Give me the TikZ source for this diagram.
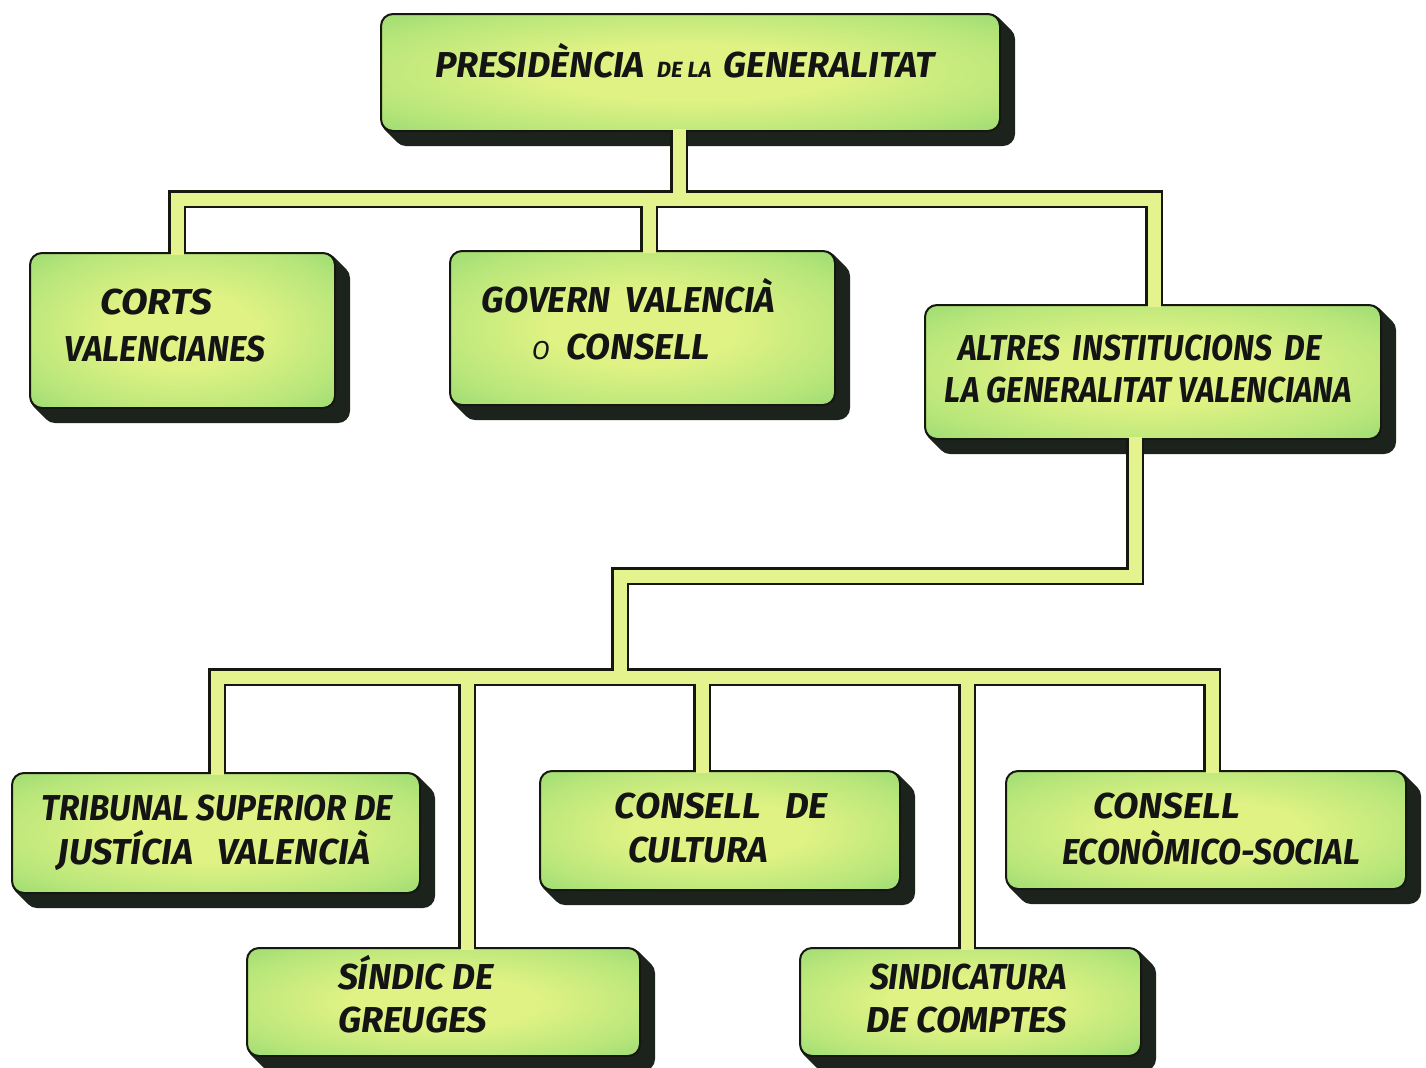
\documentclass[tikz,border=0pt]{standalone}
\usepackage{fontspec}
\setmainfont{Fira Sans}
\usepackage{graphicx}
\usetikzlibrary{backgrounds}
\definecolor{faceIn}{HTML}{E0F284}
\definecolor{faceMid}{HTML}{B8E67A}
\definecolor{faceOut}{HTML}{88D46E}
\definecolor{shadowc}{HTML}{1C221C}
\definecolor{edgec}{HTML}{16180F}
\definecolor{pipefill}{HTML}{E4F38E}
\pgfdeclareradialshading{boxshade}{\pgfpoint{0bp}{0bp}}{%
  color(0bp)=(faceIn); color(12bp)=(faceIn); color(28bp)=(faceMid);
  color(42bp)=(faceOut); color(50bp)=(faceOut)}
\tikzset{
  orgbox/.style={rounded corners=6pt, draw=edgec, line width=1pt,
    shading=boxshade, inner sep=0pt},
  pipeout/.style={draw=edgec, line width=9pt, line join=miter},
  pipein/.style={draw=pipefill, line width=6.5pt, line join=miter,
    shorten <=-1.5pt, shorten >=-1.5pt},
  lbl/.style={anchor=base, inner sep=0pt,
    font=\fontsize{18}{20}\selectfont\bfseries\itshape, text=black!92}
}
\begin{document}
\begin{tikzpicture}[x=0.5pt, y=-0.5pt]
\useasboundingbox (0,0) rectangle (1426,1067);

% boxes
\node[orgbox, minimum width=309.5pt, minimum height=58.5pt] (pres) at (690.5,72.5) {};
\node[orgbox, minimum width=152.5pt, minimum height=77.5pt] (corts) at (182.5,330.5) {};
\node[orgbox, minimum width=192.5pt, minimum height=77pt] (govern) at (642.5,328) {};
\node[orgbox, minimum width=228pt, minimum height=67pt] (altres) at (1153,372) {};
\node[orgbox, minimum width=204pt, minimum height=60pt] (trib) at (216,833) {};
\node[orgbox, minimum width=180pt, minimum height=59.5pt] (cult) at (720,830.5) {};
\node[orgbox, minimum width=200pt, minimum height=59pt] (econ) at (1206,830) {};
\node[orgbox, minimum width=196.5pt, minimum height=54pt] (sindic) at (443.5,1002) {};
\node[orgbox, minimum width=170.5pt, minimum height=54pt] (sindicat) at (970.5,1002) {};

% background and extruded shadows
\begin{scope}[on background layer]
\fill[white] (0,0) rectangle (1426,1067);
\foreach \n in {pres,corts,govern,altres,trib,cult,econ,sindic,sindicat}{
  \foreach \s in {1,...,14}{
    \fill[shadowc, rounded corners=6pt] ([shift={(\s,\s)}]\n.north west) rectangle ([shift={(\s,\s)}]\n.south east);
  }
}
\end{scope}

% junction coordinates
\coordinate (j1) at (679,199);
\coordinate (d1) at (177,199);
\coordinate (d2) at (649,199);
\coordinate (d3) at (1154,199);
\coordinate (e1) at (1135,576);
\coordinate (e2) at (620,576);
\coordinate (e3) at (620,677);
\coordinate (f1) at (217,677);
\coordinate (f2) at (467,677);
\coordinate (f3) at (702,677);
\coordinate (f4) at (967,677);
\coordinate (f5) at (1212,677);

% connectors: dark outlines first, then light fill
\foreach \st in {pipeout,pipein}{
  \draw[\st] (pres.south -| j1) -- (j1);
  \draw[\st] (d1 |- corts.north) -- (d1) -- (d3) -- (d3 |- altres.north);
  \draw[\st] (d2) -- (d2 |- govern.north);
  \draw[\st] (altres.south -| e1) -- (e1) -- (e2) -- (e3);
  \draw[\st] (f1 |- trib.north) -- (f1) -- (f5) -- (f5 |- econ.north);
  \draw[\st] (f2) -- (f2 |- sindic.north);
  \draw[\st] (f3) -- (f3 |- cult.north);
  \draw[\st] (f4) -- (f4 |- sindicat.north);
}

% labels
\node[lbl] (pres-t) at (685,77) {\resizebox{250pt}{\height}{PRESIDÈNCIA\hspace{6pt}{\fontsize{11}{12}\selectfont DE LA}\hspace{6pt}GENERALITAT}};
\node[lbl] (corts-1) at (156,314) {\resizebox{56pt}{\height}{CORTS}};
\node[lbl] (corts-2) at (165,361) {\resizebox{100pt}{\height}{VALENCIANES}};
\node[lbl] (govern-1) at (628.5,312) {\resizebox{146.5pt}{\height}{GOVERN\hspace{8pt}VALENCIÀ}};
\node[lbl] (govern-2) at (621,359) {\resizebox{89pt}{\height}{{\mdseries\fontsize{13}{14}\selectfont O}\hspace{8pt}CONSELL}};
\node[lbl] (altres-1) at (1140,360) {\resizebox{182pt}{\height}{ALTRES\hspace{7pt}INSTITUCIONS\hspace{7pt}DE}};
\node[lbl] (altres-2) at (1148.5,402) {\resizebox{203.5pt}{\height}{LA GENERALITAT VALENCIANA}};
\node[lbl] (trib-1) at (217.5,820) {\resizebox{175.5pt}{\height}{TRIBUNAL SUPERIOR DE}};
\node[lbl] (trib-2) at (214,864) {\resizebox{156pt}{\height}{JUSTÍCIA\hspace{12pt}VALENCIÀ}};
\node[lbl] (cult-1) at (721.5,818) {\resizebox{106.5pt}{\height}{CONSELL\hspace{12pt}DE}};
\node[lbl] (cult-2) at (698,862) {\resizebox{70pt}{\height}{CULTURA}};
\node[lbl] (econ-1) at (1166.5,818) {\resizebox{73.5pt}{\height}{CONSELL}};
\node[lbl] (econ-2) at (1211,864) {\resizebox{149pt}{\height}{ECONÒMICO-SOCIAL}};
\node[lbl] (sindic-1) at (416,989) {\resizebox{78pt}{\height}{SÍNDIC DE}};
\node[lbl] (sindic-2) at (412.5,1032) {\resizebox{74.5pt}{\height}{GREUGES}};
\node[lbl] (sindicat-1) at (968.5,989) {\resizebox{98.5pt}{\height}{SINDICATURA}};
\node[lbl] (sindicat-2) at (966.5,1032) {\resizebox{100.5pt}{\height}{DE COMPTES}};
\end{tikzpicture}
\end{document}
